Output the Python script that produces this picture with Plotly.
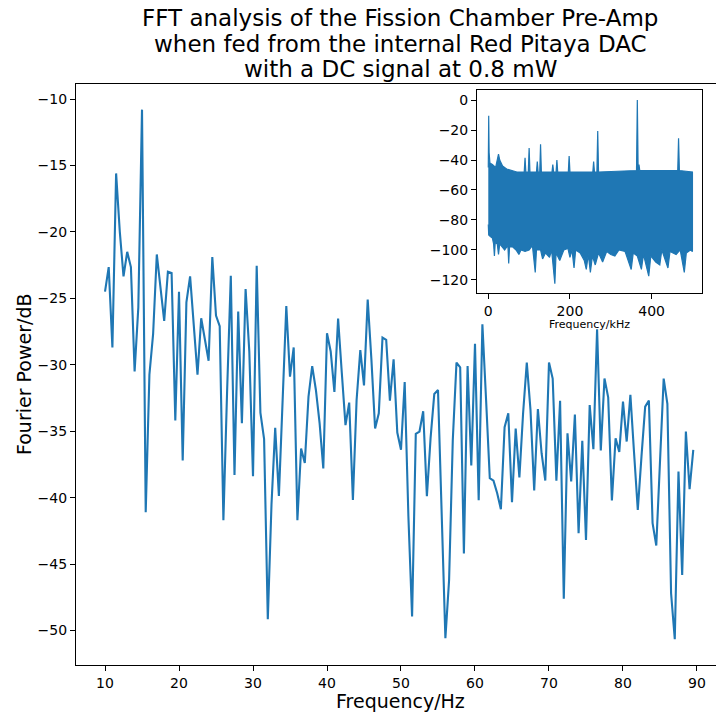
import plotly.graph_objects as go

# ---------------- main spectrum (10-90 Hz) ----------------
freq_hz = [
    10.0, 10.5, 11.0, 11.5, 12.0, 12.5, 13.0, 13.5, 14.0, 14.5,
    15.0, 15.5, 16.0, 16.5, 17.0, 17.5, 18.0, 18.5, 19.0, 19.5,
    20.0, 20.5, 21.0, 21.5, 22.0, 22.5, 23.0, 23.5, 24.0, 24.5,
    25.0, 25.5, 26.0, 26.5, 27.0, 27.5, 28.0, 28.5, 29.0, 29.5,
    30.0, 30.5, 31.0, 31.5, 32.0, 32.5, 33.0, 33.5, 34.0, 34.5,
    35.0, 35.5, 36.0, 36.5, 37.0, 37.5, 38.0, 38.5, 39.0, 39.5,
    40.0, 40.5, 41.0, 41.5, 42.0, 42.5, 43.0, 43.5, 44.0, 44.5,
    45.0, 45.5, 46.0, 46.5, 47.0, 47.5, 48.0, 48.5, 49.0, 49.5,
    50.0, 50.5, 51.0, 51.5, 52.0, 52.5, 53.0, 53.5, 54.0, 54.5,
    55.0, 55.5, 56.0, 56.5, 57.0, 57.5, 58.0, 58.5, 59.0, 59.5,
    60.0, 60.5, 61.0, 61.5, 62.0, 62.5, 63.0, 63.5, 64.0, 64.5,
    65.0, 65.5, 66.0, 66.5, 67.0, 67.5, 68.0, 68.5, 69.0, 69.5,
    70.0, 70.5, 71.0, 71.5, 72.0, 72.5, 73.0, 73.5, 74.0, 74.5,
    75.0, 75.5, 76.0, 76.5, 77.0, 77.5, 78.0, 78.5, 79.0, 79.5,
    80.0, 80.5, 81.0, 81.5, 82.0, 82.5, 83.0, 83.5, 84.0, 84.5,
    85.0, 85.5, 86.0, 86.5, 87.0, 87.5, 88.0, 88.5, 89.0, 89.5,
]
power_db = [
    -24.5, -22.65, -28.7, -15.6, -20.0, -23.35, -21.5, -22.65, -30.5, -25.7,
    -10.8, -41.1, -30.75, -27.7, -21.7, -24.2, -26.7, -23.0, -23.1, -34.2,
    -24.5, -37.2, -25.3, -23.35, -27.1, -30.75, -26.5, -28.0, -29.7, -21.9,
    -26.3, -27.1, -41.7, -32.0, -23.3, -38.3, -26.0, -34.4, -24.3, -29.0,
    -38.4, -22.56, -33.6, -35.6, -49.15, -40.5, -34.75, -39.87, -32.0, -25.58,
    -30.9, -28.7, -41.7, -36.3, -37.4, -32.4, -30.1, -31.9, -34.4, -37.8,
    -27.63, -29.0, -32.05, -26.53, -30.6, -34.55, -32.85, -40.17, -32.65, -28.9,
    -31.55, -25.1, -29.6, -34.8, -33.65, -27.96, -28.13, -32.7, -29.6, -35.1,
    -36.4, -31.3, -41.4, -48.95, -35.2, -35.03, -33.5, -39.9, -35.5, -32.2,
    -31.9, -40.5, -50.58, -46.2, -35.66, -29.84, -30.19, -44.2, -30.09, -37.59,
    -28.43, -40.2, -26.95, -32.65, -38.54, -38.72, -39.67, -40.88, -34.7, -33.65,
    -40.35, -34.8, -38.49, -33.65, -29.84, -33.4, -39.47, -33.33, -36.66, -38.72,
    -29.84, -31.04, -38.72, -32.72, -47.62, -35.16, -38.79, -33.75, -42.68, -35.73,
    -43.18, -33.03, -36.36, -27.33, -36.46, -31.04, -32.45, -40.22, -35.53, -36.56,
    -32.77, -35.78, -32.27, -36.66, -40.92, -36.9, -33.15, -32.7, -41.93, -43.61,
    -37.4, -31.04, -32.95, -47.2, -50.66, -38.04, -45.82, -35.03, -39.37, -36.41,
]

# ---------------- inset: full-band FFT envelope (kHz) ----------------
upper_khz = [0, 1, 2, 4, 10, 18, 22, 25, 28, 35, 45, 55, 70, 88, 90, 92, 98, 100, 102,
             118, 120, 122, 126, 128, 130, 156, 158, 160, 166, 168, 170, 196, 198, 200,
             256, 258, 260, 266, 268, 270, 363, 365, 367, 369, 371, 464, 466, 468, 500]
upper_db = [-45, -10.5, -35, -42, -43, -45, -40, -36, -40, -44, -46, -47, -48, -48, -38.5, -48, -48, -32, -48,
            -48, -41, -48, -48, -29.5, -48, -48, -43, -48, -48, -40, -48, -48, -37.3, -48,
            -48, -41, -48, -48, -20.7, -48, -47, 0, -47, -43, -47, -47, -25.5, -47, -48]
lower_khz = [0, 1, 5, 10, 13, 15, 17, 22, 25, 28, 35, 40, 48, 50, 52, 60, 68, 75, 80, 90,
             100, 108, 115, 118, 128, 133, 140, 150, 155, 163, 166, 175, 185, 195, 200, 205,
             210, 214, 225, 235, 240, 245, 250, 255, 262, 270, 280, 290, 300, 310, 320, 335,
             350, 355, 365, 375, 380, 393, 398, 410, 420, 425, 440, 445, 460, 470, 480, 485,
             495, 500]
lower_db = [-83, -90, -91, -92, -96, -104, -95, -96, -103, -96, -98, -100, -97, -109, -98, -98, -100, -103, -100, -101,
            -100, -97, -115, -100, -100, -106, -102, -105, -100, -122.5, -102, -107, -100, -99, -105, -100,
            -112, -100, -102, -107, -113, -103, -115, -104, -110, -102, -108, -101, -103, -104, -100, -101,
            -113, -102, -104, -113, -103, -117.5, -104, -108, -110, -100, -112, -101, -103, -100, -115, -102,
            -100, -101]

BLUE = "#1f77b4"
FONT = "DejaVu Sans"

fig = go.Figure()
fig.add_trace(go.Scatter(x=freq_hz, y=power_db, mode="lines",
                         line=dict(color=BLUE, width=2.1), showlegend=False,
                         xaxis="x", yaxis="y"))

band_x = list(upper_khz) + list(reversed(lower_khz))
band_y = list(upper_db) + list(reversed(lower_db))
fig.add_trace(go.Scatter(x=band_x, y=band_y, mode="lines", fill="toself",
                         fillcolor=BLUE, line=dict(color=BLUE, width=1.2),
                         showlegend=False, xaxis="x2", yaxis="y2"))

axis_common = dict(showgrid=False, zeroline=False, showline=True, linecolor="black",
                   linewidth=1.1, ticks="outside", ticklen=5, tickwidth=1.1,
                   tickcolor="black", tickfont=dict(family=FONT, size=14, color="black"))

fig.update_layout(
    width=716, height=715,
    margin=dict(l=76, r=0, t=84, b=50),
    paper_bgcolor="white", plot_bgcolor="white",
    font=dict(family=FONT, color="black"),
    xaxis=dict(domain=[0, 1], range=[6.08, 92.57], tickvals=[10, 20, 30, 40, 50, 60, 70, 80, 90],
               mirror=True, **axis_common),
    yaxis=dict(domain=[0, 1], range=[-52.6, -8.87],
               tickvals=[-10, -15, -20, -25, -30, -35, -40, -45, -50], **axis_common),
    xaxis2=dict(domain=[0.6266, 0.978], anchor="y2", range=[-27.6, 523.2],
                tickvals=[0, 200, 400], mirror=True, **axis_common),
    yaxis2=dict(domain=[0.6403, 0.9897], anchor="x2", range=[-128.7, 6.7],
                tickvals=[0, -20, -40, -60, -80, -100, -120], mirror=True, **axis_common),
)

title_lines = ["FFT analysis of the Fission Chamber Pre-Amp",
               "when fed from the internal Red Pitaya DAC",
               "with a DC signal at 0.8 mW"]
title_y = [1.1136, 1.0688, 1.0258]
for txt, ty in zip(title_lines, title_y):
    fig.add_annotation(text=txt, x=0.50625, y=ty, xref="paper", yref="paper",
                       xanchor="center", yanchor="middle", showarrow=False,
                       font=dict(family=FONT, size=23, color="black"))

fig.add_annotation(text="Frequency/Hz", x=0.50625, y=-0.0620, xref="paper", yref="paper",
                   xanchor="center", yanchor="middle", showarrow=False,
                   font=dict(family=FONT, size=19, color="black"))
fig.add_annotation(text="Fourier Power/dB", x=-0.0820, y=0.5, xref="paper", yref="paper",
                   xanchor="center", yanchor="middle", textangle=-90, showarrow=False,
                   font=dict(family=FONT, size=19, color="black"))
fig.add_annotation(text="Frequency/kHz", x=0.803, y=0.5852, xref="paper", yref="paper",
                   xanchor="center", yanchor="middle", showarrow=False,
                   font=dict(family=FONT, size=11, color="black"))

fig.write_html("out.html")
